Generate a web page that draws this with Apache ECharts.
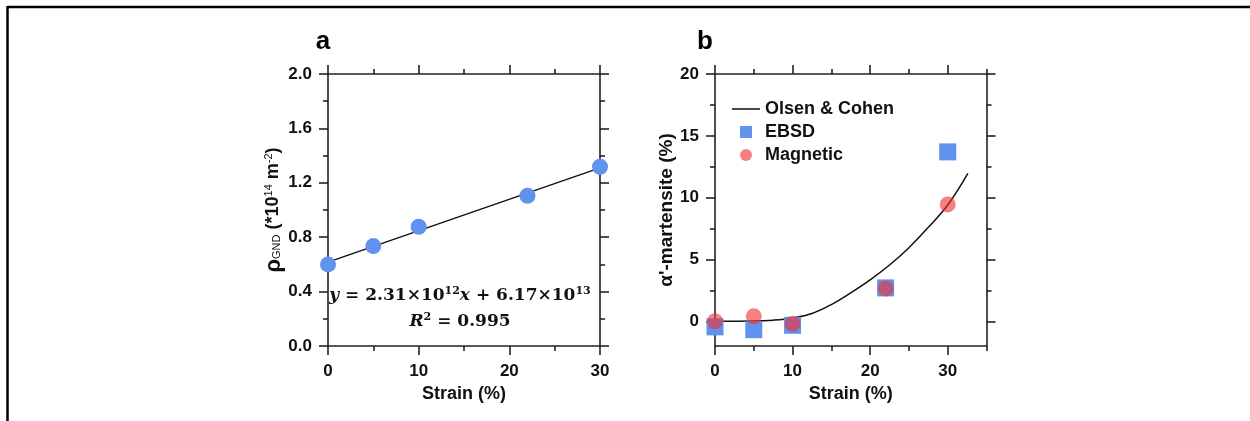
<!DOCTYPE html>
<html>
<head>
<meta charset="utf-8">
<script src="https://cdn.jsdelivr.net/npm/echarts@6/dist/echarts.min.js"></script>
<style>
  html, body { margin: 0; padding: 0; background: #fff; }
  #chart { width: 1250px; height: 421px; }
</style>
</head>
<body>
<div id="chart"></div>
<script>
// ---- Panel a: GND density vs strain ----
const strainA = [0, 5, 10, 22, 30];
const rhoGND = [0.60, 0.735, 0.877, 1.105, 1.318];
// linear fit stated on the panel (in units of 1e14 m^-2)
const fitSlope = 0.0231;      // 2.31e12 / 1e14
const fitIntercept = 0.617;   // 6.17e13 / 1e14
const fitRange = [0, 30];

const xMajorA = [0, 10, 20, 30];
const xMinorA = [5, 15, 25];
const yMajorA = [0, 0.4, 0.8, 1.2, 1.6, 2.0];
const yMinorA = [0.2, 0.6, 1.0, 1.4, 1.8];

// ---- Panel b: alpha'-martensite vs strain ----
const strainB = [0, 5, 10, 22, 30];
const ebsd = [-0.45, -0.68, -0.33, 2.7, 13.7];
const magnetic = [0.0, 0.4, -0.2, 2.65, 9.45];
const olsenCohenX = [0, 5, 7.5, 10, 12.5, 15, 17.5, 20, 22.5, 25, 27.5, 30, 32.6];
const olsenCohenY = [0, 0.02, 0.09, 0.27, 0.63, 1.35, 2.3, 3.35, 4.55, 5.95, 7.6, 9.4, 11.96];

const xMajorB = [0, 10, 20, 30];
const xMinorB = [5, 15, 25, 35];
const yMajorB = [0, 5, 10, 15, 20];
const yMinorB = [2.5, 7.5, 12.5, 17.5];

const AX = '#222';
const LW = 1.6;
const SANS = 'Liberation Sans, Arial, sans-serif';
const labelFont = { fontFamily: SANS, fontWeight: 'bold', fontSize: 17, color: '#111' };

// Builds a boxed frame of axes (main side + opposite side), each with major and minor tick layers
function frameAxes(grid, min, max, major, minor, pos, other, label, name) {
  const base = {
    type: 'value', gridIndex: grid, min: min, max: max,
    splitLine: { show: false },
    axisPointer: { show: false }
  };
  const tickStyle = { color: AX, width: LW };
  const mainAx = Object.assign({}, base, {
    position: pos,
    axisLine: { show: true, onZero: false, lineStyle: { color: AX, width: LW } },
    axisTick: { show: true, inside: false, length: 9, customValues: major, lineStyle: tickStyle },
    axisLabel: Object.assign({ show: true, customValues: major, margin: label.margin, formatter: label.formatter }, labelFont)
  }, name);
  const minorAx = Object.assign({}, base, {
    position: pos,
    axisLine: { show: false, onZero: false },
    axisTick: { show: true, inside: false, length: 5, customValues: minor, lineStyle: tickStyle },
    axisLabel: { show: false }
  });
  const oppMain = Object.assign({}, base, {
    position: other,
    axisLine: { show: true, onZero: false, lineStyle: { color: AX, width: LW } },
    axisTick: { show: true, inside: false, length: 9, customValues: major, lineStyle: tickStyle },
    axisLabel: { show: false }
  });
  const oppMinor = Object.assign({}, base, {
    position: other,
    axisLine: { show: false, onZero: false },
    axisTick: { show: true, inside: false, length: 5, customValues: minor, lineStyle: tickStyle },
    axisLabel: { show: false }
  });
  return [mainAx, minorAx, oppMain, oppMinor];
}

const nameStyle = { fontFamily: SANS, fontWeight: 'bold', fontSize: 18, color: '#111' };

const xA = frameAxes(0, 0, 30, xMajorA, xMinorA, 'bottom', 'top',
  { margin: 17, formatter: v => String(v) },
  { name: 'Strain (%)', nameLocation: 'middle', nameGap: 38, nameTextStyle: nameStyle });
const yA = frameAxes(0, 0, 2.0, yMajorA, yMinorA, 'left', 'right',
  { margin: 16, formatter: v => v.toFixed(1) },
  { name: '{rho|ρ}{sub|GND}{t| (*10}{sup|14}{t| m}{sup|-2}{t|)}', nameLocation: 'middle', nameGap: 42,
    nameTextStyle: Object.assign({}, nameStyle, {
      rich: {
        rho: { fontFamily: SANS, fontSize: 22, fontWeight: 'bold', color: '#111' },
        t: { fontFamily: SANS, fontSize: 18, fontWeight: 'bold', color: '#111' },
        sub: { fontFamily: SANS, fontSize: 11, fontWeight: 'normal', color: '#111', padding: [8, 0, 0, 0] },
        sup: { fontFamily: SANS, fontSize: 11, fontWeight: 'normal', color: '#111', padding: [0, 0, 9, 0] }
      }
    }) });

const xB = frameAxes(1, 0, 35, xMajorB, xMinorB, 'bottom', 'top',
  { margin: 17, formatter: v => String(v) },
  { name: 'Strain (%)', nameLocation: 'middle', nameGap: 38, nameTextStyle: nameStyle });
const yB = frameAxes(1, -2, 20, yMajorB, yMinorB, 'left', 'right',
  { margin: 16, formatter: v => String(v) },
  { name: "α'-martensite (%)", nameLocation: 'middle', nameGap: 37,
    nameTextStyle: Object.assign({}, nameStyle, { fontSize: 19 }) });

const fitLine = fitRange.map(x => [x, fitIntercept + fitSlope * x]);

const eqFont = 'DejaVu Serif, Liberation Serif, serif';

const option = {
  animation: false,
  backgroundColor: '#fff',
  grid: [
    { left: 328, top: 74, width: 272, height: 272, outerBoundsMode: 'none' },
    { left: 715, top: 74, width: 271.5, height: 272, outerBoundsMode: 'none' }
  ],
  xAxis: xA.concat(xB),
  yAxis: yA.concat(yB),
  legend: {
    data: [
      { name: 'Olsen & Cohen', icon: 'path://M0,0H100V5.5H0Z' },
      { name: 'EBSD', icon: 'path://M0,0H10V10H0Z' },
      { name: 'Magnetic', icon: 'circle' }
    ],
    orient: 'vertical',
    left: 732, top: 100, padding: 0,
    itemWidth: 28, itemHeight: 12, itemGap: 5,
    symbolKeepAspect: true,
    textStyle: { fontFamily: SANS, fontWeight: 'bold', fontSize: 18, color: '#111' },
    selectedMode: false
  },
  series: [
    {
      name: 'fit', type: 'line', xAxisIndex: 0, yAxisIndex: 0,
      data: fitLine, symbol: 'none', lineStyle: { color: '#111', width: 1.5 }, z: 2
    },
    {
      name: 'ρGND', type: 'scatter', xAxisIndex: 0, yAxisIndex: 0,
      data: strainA.map((x, i) => [x, rhoGND[i]]),
      symbol: 'circle', symbolSize: 16, itemStyle: { color: '#6193ee', opacity: 1 }, z: 3
    },
    {
      name: 'Olsen & Cohen', type: 'line', xAxisIndex: 4, yAxisIndex: 4,
      data: olsenCohenX.map((x, i) => [x, olsenCohenY[i]]),
      symbol: 'none', smooth: 0.4,
      lineStyle: { color: '#111', width: 1.5 }, itemStyle: { color: '#111' }, z: 2
    },
    {
      name: 'EBSD', type: 'scatter', xAxisIndex: 4, yAxisIndex: 4,
      data: strainB.map((x, i) => [x, ebsd[i]]),
      symbol: 'rect', symbolSize: 17, itemStyle: { color: '#6193ee', opacity: 1 }, z: 3
    },
    {
      name: 'Magnetic', type: 'scatter', xAxisIndex: 4, yAxisIndex: 4,
      data: strainB.map((x, i) => [x, magnetic[i]]),
      symbol: 'circle', symbolSize: 16, itemStyle: { color: 'rgba(240,45,45,0.6)', opacity: 1 }, z: 4
    }
  ],
  graphic: [
    // page frame
    { type: 'line', shape: { x1: 7.5, y1: 7, x2: 1250, y2: 7 }, style: { stroke: '#000', lineWidth: 2.5 } },
    { type: 'line', shape: { x1: 7.5, y1: 6, x2: 7.5, y2: 421 }, style: { stroke: '#000', lineWidth: 2.5 } },
    // panel letters
    { type: 'text', x: 323, y: 42, style: { text: 'a', font: 'bold 26px "Liberation Sans", Arial, sans-serif', fill: '#000', align: 'center', verticalAlign: 'middle' } },
    { type: 'text', x: 705, y: 42, style: { text: 'b', font: 'bold 26px "Liberation Sans", Arial, sans-serif', fill: '#000', align: 'center', verticalAlign: 'middle' } },
    // fit equation
    {
      type: 'text', x: 460, y: 309, z: 10,
      style: {
        text: '{i|y}{n| = 2.31×10}{s|12}{i|x}{n| + 6.17×10}{s|13}\n{i|R}{s|2}{n| = 0.995}',
        align: 'center', verticalAlign: 'middle',
        rich: {
          i: { fontFamily: eqFont, fontSize: 17, fontWeight: 'bold', fontStyle: 'italic', fill: '#111', lineHeight: 26 },
          n: { fontFamily: eqFont, fontSize: 17, fontWeight: 'bold', fill: '#111', lineHeight: 26 },
          s: { fontFamily: eqFont, fontSize: 11, fontWeight: 'bold', fill: '#111', lineHeight: 26, padding: [0, 0, 9, 0] }
        }
      }
    }
  ]
};

const chart = echarts.init(document.getElementById('chart'), null, { renderer: 'canvas' });
chart.setOption(option);
</script>
</body>
</html>
